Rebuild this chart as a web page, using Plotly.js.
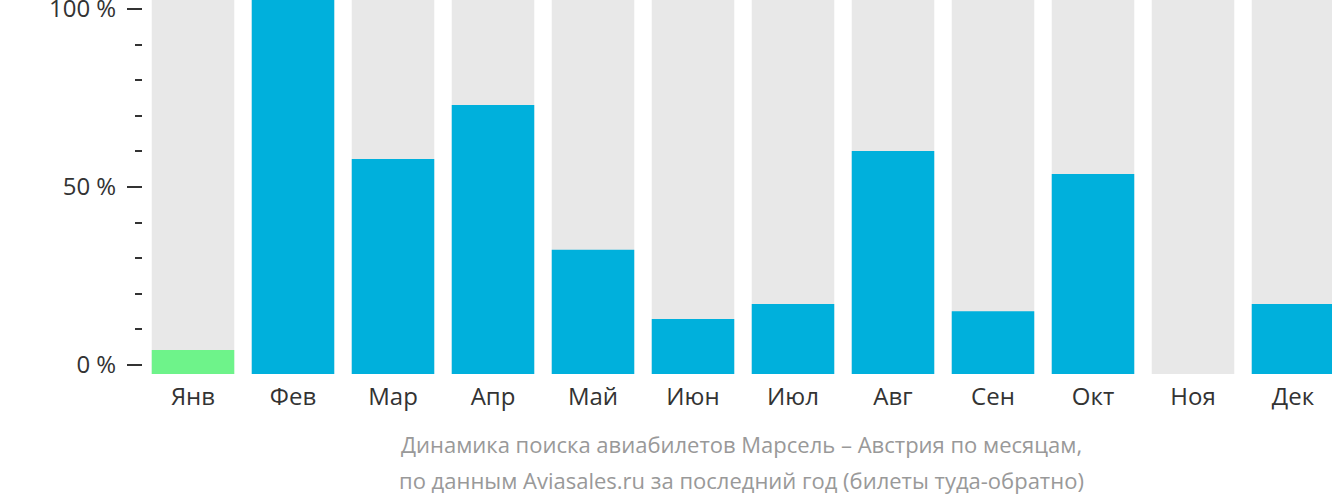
<!DOCTYPE html>
<html>
<head>
<meta charset="utf-8">
<script src="https://cdn.plot.ly/plotly-3.0.1.min.js"></script>
<style>html,body{margin:0;padding:0;background:#fff;}#chart{width:1332px;height:502px;}</style>
</head>
<body>
<div id="chart"></div>
<script>
// Data
const months = ["Янв","Фев","Мар","Апр","Май","Июн","Июл","Авг","Сен","Окт","Ноя","Дек"];
const searchShare = [6.4, 100, 57.5, 71.9, 33.2, 14.7, 18.7, 59.6, 16.8, 53.5, 0, 18.7];
const backgroundFull = [100,100,100,100,100,100,100,100,100,100,100,100];
const highlightMonth = "Янв";
const yTickVals = [0, 50, 100];
const yTickText = ["0 %", "50 %", "100 %"];
const titleLine1 = "Динамика поиска авиабилетов Марсель – Австрия по месяцам,";
const titleLine2 = "по данным Aviasales.ru за последний год (билеты туда-обратно)";

const BLUE = "#00b0dc", GRAY = "#e8e8e8", GREEN = "#6ef38a";
const barColors = months.map(m => m === highlightMonth ? GREEN : BLUE);

const traces = [
  {type:"bar", x: months, y: backgroundFull, marker:{color:GRAY}, hoverinfo:"skip", showlegend:false},
  {type:"bar", x: months, y: searchShare, marker:{color:barColors}, hoverinfo:"skip", showlegend:false},
  {type:"scatter", x: [], y: [], yaxis:"y2", hoverinfo:"skip", showlegend:false}
];

const layout = {
  width:1332, height:502,
  margin:{l:143, r:0, t:0, b:128},
  paper_bgcolor:"#fff", plot_bgcolor:"#fff",
  barmode:"overlay", bargap:0.175,
  font:{family:"Open Sans, sans-serif", color:"#333"},
  xaxis:{type:"category", range:[-0.5, 11.39], showgrid:false, zeroline:false, showline:false,
         ticks:"", tickfont:{size:24, color:"#333"}, ticklabelstandoff:6, fixedrange:true},
  yaxis:{range:[0,100], visible:false, showgrid:false, zeroline:false, fixedrange:true},
  yaxis2:{overlaying:"y", side:"left", range:[-2.53, 102.53], showgrid:false, zeroline:false, showline:false,
          tickmode:"array", tickvals:yTickVals, ticktext:yTickText,
          ticks:"outside", ticklen:15, tickwidth:2, tickcolor:"#333",
          tickfont:{size:24, color:"#333"}, ticklabelstandoff:6, ticklabeloverflow:"allow",
          minor:{tickmode:"linear", tick0:0, dtick:10, ticks:"outside", ticklen:7, tickwidth:2, tickcolor:"#333", showgrid:false},
          fixedrange:true},
  annotations:[
    {text:titleLine1, xref:"paper", yref:"paper", x:0.503, y:(374-444)/374, xanchor:"center", yanchor:"middle",
     showarrow:false, font:{size:22, color:"#999"}},
    {text:titleLine2, xref:"paper", yref:"paper", x:0.503, y:(374-480)/374, xanchor:"center", yanchor:"middle",
     showarrow:false, font:{size:22, color:"#999"}}
  ]
};

Plotly.newPlot("chart", traces, layout, {staticPlot:true, displayModeBar:false});
</script>
</body>
</html>
